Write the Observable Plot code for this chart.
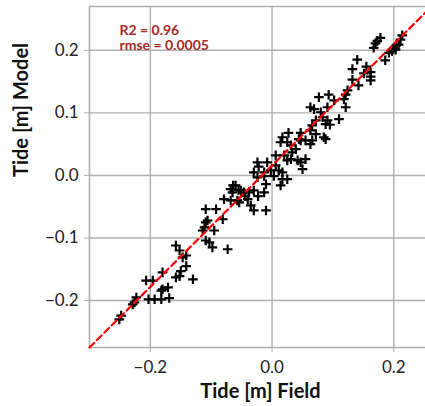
<!DOCTYPE html>
<html><head><meta charset="utf-8">
<script src="https://cdn.jsdelivr.net/npm/d3@7"></script>
<script src="https://cdn.jsdelivr.net/npm/@observablehq/plot@0.6"></script>
<style>
html,body{margin:0;padding:0;background:#fff;overflow:hidden;}
</style></head><body><div id="chart"></div>
<script>
const fieldTide = [0.178,0.173,0.170,0.167,0.214,0.211,0.204,0.200,0.197,0.192,0.203,0.186,0.140,0.132,0.151,0.162,0.162,0.162,0.132,0.124,
0.121,0.118,0.121,0.093,0.077,0.102,0.091,0.063,0.069,0.080,0.083,0.110,0.072,0.088,0.095,0.066,0.072,0.066,0.085,0.063,
0.017,0.014,0.025,0.031,0.044,0.055,0.063,0.039,0.033,0.006,0.020,0.025,0.031,0.042,0.055,0.047,0.050,-0.024,-0.008,0.006,
0.011,0.017,-0.030,-0.013,0.003,0.017,-0.010,0.025,0.014,-0.024,-0.013,-0.060,-0.055,-0.051,-0.065,-0.068,-0.079,-0.068,-0.057,-0.046,
-0.038,-0.030,-0.013,-0.040,-0.054,-0.035,-0.030,-0.010,-0.109,-0.092,-0.081,-0.106,-0.109,-0.111,-0.114,-0.095,-0.109,-0.103,-0.098,-0.073,
-0.158,-0.152,-0.147,-0.141,-0.141,-0.150,-0.152,-0.158,-0.130,-0.180,-0.207,-0.196,-0.171,-0.180,-0.182,-0.223,-0.226,-0.203,-0.193,-0.182,
-0.169,-0.248,-0.251,-0.229,0.091,0.088,0.047,-0.064,-0.044,-0.023,-0.002,-0.022,0.047,0.027,0.142,0.155,0.208];
const modelTide = [0.220,0.215,0.211,0.204,0.224,0.217,0.208,0.204,0.199,0.196,0.201,0.184,0.185,0.170,0.163,0.165,0.158,0.152,0.153,0.136,
0.129,0.122,0.109,0.129,0.125,0.120,0.109,0.109,0.106,0.101,0.093,0.090,0.088,0.082,0.081,0.080,0.066,0.056,0.061,0.072,
0.061,0.053,0.053,0.048,0.058,0.056,0.050,0.042,0.037,0.032,0.032,0.024,0.026,0.024,0.026,0.021,0.010,0.021,0.021,0.016,
0.008,0.005,0.005,0.005,-0.001,-0.006,-0.014,-0.006,-0.016,-0.003,-0.001,-0.016,-0.023,-0.024,-0.027,-0.022,-0.038,-0.040,-0.040,-0.027,
-0.027,-0.024,-0.027,-0.038,-0.043,-0.048,-0.056,-0.056,-0.054,-0.054,-0.070,-0.072,-0.075,-0.083,-0.088,-0.088,-0.104,-0.107,-0.115,-0.118,
-0.112,-0.120,-0.131,-0.128,-0.145,-0.153,-0.161,-0.163,-0.166,-0.155,-0.168,-0.168,-0.179,-0.182,-0.184,-0.195,-0.203,-0.198,-0.198,-0.198,
-0.196,-0.224,-0.230,-0.206,0.088,0.058,0.056,-0.016,-0.033,-0.033,0.008,0.014,0.068,0.068,0.144,0.174,0.209];

const xDomain = [-0.3, 0.262];
const yDomain = [-0.275, 0.27];
const xTicks = [-0.2, 0.0, 0.2];
const yTicks = [-0.2, -0.1, 0.0, 0.1, 0.2];
const statsLines = ["R2 = 0.96", "rmse = 0.0005"];
const xLabel = "Tide [m] Field";
const yLabel = "Tide [m] Model";

const points = fieldTide.map((f, i) => ({field: f, model: modelTide[i]}));
const diagonal = [[xDomain[0], yDomain[0]], [xDomain[1], yDomain[1]]];
const fmt = d3.format(".1f");
const plusSymbol = {
  draw(ctx, size) {
    const r = Math.sqrt(size / Math.PI);
    ctx.moveTo(-r, 0); ctx.lineTo(r, 0);
    ctx.moveTo(0, -r); ctx.lineTo(0, r);
  }
};
const gridColor = "#b0b0b0";

const chart = Plot.plot({
  width: 425, height: 406,
  marginLeft: 89, marginRight: -6, marginTop: 6, marginBottom: 59,
  style: {fontFamily: "Lato, sans-serif", fontSize: "17px", color: "#222", background: "#fff"},
  x: {domain: xDomain},
  y: {domain: yDomain},
  marks: [
    Plot.gridX(xTicks, {stroke: gridColor, strokeOpacity: 1, strokeWidth: 1.4}),
    Plot.gridY(yTicks, {stroke: gridColor, strokeOpacity: 1, strokeWidth: 1.4}),
    Plot.ruleX([xDomain[0]], {stroke: gridColor, strokeWidth: 1.6}),
    Plot.ruleY([yDomain[0], yDomain[1]], {stroke: gridColor, strokeWidth: 1.6}),
    Plot.axisX(xTicks, {tickFormat: fmt, tickSize: 5, tickPadding: 8, stroke: gridColor, fill: "#222", fontSize: 17, label: null}),
    Plot.axisY(yTicks, {tickFormat: fmt, tickSize: 5, tickPadding: 6, stroke: gridColor, fill: "#222", fontSize: 17, label: null}),
    Plot.dot(points, {x: "field", y: "model", symbol: plusSymbol, r: 4.8, stroke: "black", strokeWidth: 2.2, fill: "none"}),
    Plot.line(diagonal, {stroke: "#ff0000", strokeWidth: 2.2, strokeDasharray: "6.5,4"}),
    Plot.text([statsLines.join("\n")], {frameAnchor: "top-left", textAnchor: "start", lineAnchor: "top", dx: 30, dy: 17, fill: "#a52a2a", fontWeight: "bold", fontSize: 14, lineHeight: 1.12}),
    Plot.text([xLabel], {frameAnchor: "bottom", lineAnchor: "bottom", dy: 50, fontWeight: "bold", fontSize: 20, fill: "#111"}),
    Plot.text([yLabel], {frameAnchor: "left", lineAnchor: "top", rotate: -90, dx: -76, fontWeight: "bold", fontSize: 20, fill: "#111"})
  ]
});
document.getElementById("chart").appendChild(chart);
</script>
</body></html>
